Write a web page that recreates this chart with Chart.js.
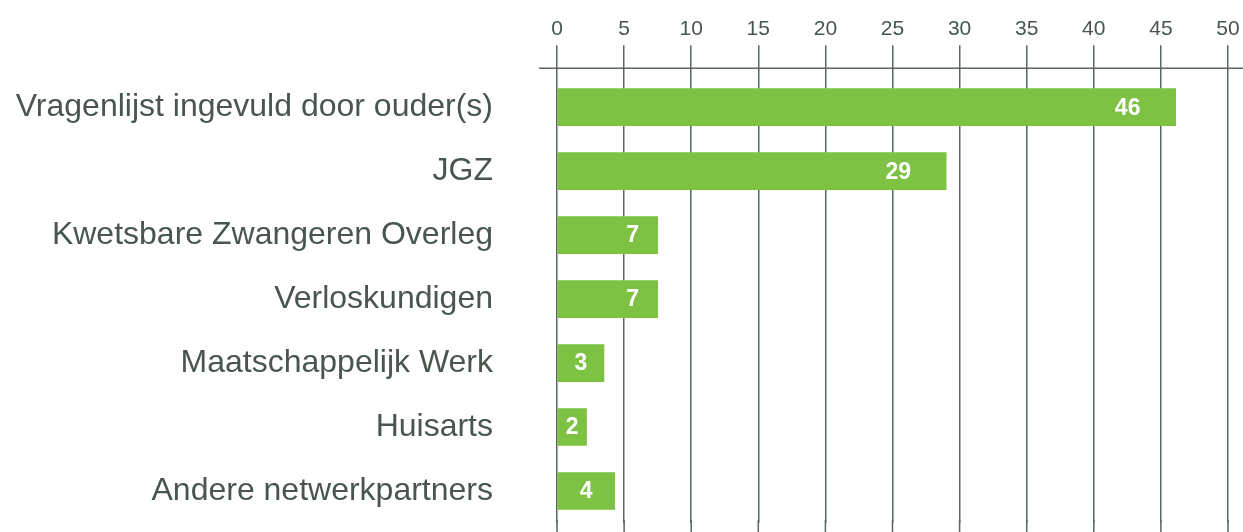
<!DOCTYPE html>
<html>
<head>
<meta charset="utf-8">
<script src="https://cdn.jsdelivr.net/npm/chart.js@4"></script>
<style>
  html, body { margin: 0; padding: 0; background: #fff; }
  #wrap { width: 1243px; height: 532px; }
</style>
</head>
<body>
<div id="wrap"><canvas id="canvas"></canvas></div>
<script>
// data
var categories = ['Vragenlijst ingevuld door ouder(s)', 'JGZ', 'Kwetsbare Zwangeren Overleg', 'Verloskundigen', 'Maatschappelijk Werk', 'Huisarts', 'Andere netwerkpartners'];
var barValues = [46.1, 29, 7.5, 7.5, 3.5, 2.2, 4.3];
var barLabels = ['46', '29', '7', '7', '3', '2', '4'];
var xTicks = [0, 5, 10, 15, 20, 25, 30, 35, 40, 45, 50];

var green = '#7dc243';
var gridColor = '#5b6661';
var textColor = '#48564e';

// white value inside each bar
var barLabelPlugin = {
    id: 'barLabel',
    afterDatasetsDraw: function(chart){
        var ctx = chart.ctx;
        var meta = chart.getDatasetMeta(0);
        ctx.save();
        ctx.fillStyle = '#fff';
        ctx.font = 'bold 23px "Liberation Sans", Arial, sans-serif';
        ctx.textAlign = 'center';
        ctx.textBaseline = 'middle';
        for (var i = 0; i < meta.data.length; i++){
            var bar = meta.data[i];
            var w = bar.x - bar.base;
            var off;
            if (w < 70) off = w / 2;
            else if (w < 200) off = 25;
            else off = 48;
            ctx.fillText(barLabels[i], bar.x - off, bar.y + 1);
        }
        ctx.restore();
    }
};

// horizontal rule under the ticks, and grid lines running to the bottom edge
var extrasPlugin = {
    id: 'extras',
    beforeDatasetsDraw: function(chart){
        var ctx = chart.ctx;
        var area = chart.chartArea;
        var xs = chart.scales.x;
        ctx.save();
        ctx.strokeStyle = gridColor;
        ctx.lineWidth = 1.5;
        ctx.beginPath();
        ctx.moveTo(area.left - 18, area.top - 7);
        ctx.lineTo(chart.width, area.top - 7);
        for (var t of xTicks){
            var px = xs.getPixelForValue(t);
            ctx.moveTo(px, area.bottom - 3);
            ctx.lineTo(px, chart.height);
        }
        ctx.stroke();
        ctx.restore();
    }
};

function noPadding(scale){
    scale.paddingTop = 0;
    scale.paddingBottom = 0;
    scale.paddingLeft = 0;
    scale.paddingRight = 0;
}

var ctx = document.getElementById('canvas').getContext('2d');
var chart = new Chart(ctx, {
    type: 'bar',
    data: {
        labels: categories,
        datasets: [{
            data: barValues,
            backgroundColor: green,
            borderWidth: 0,
            barThickness: 37
        }]
    },
    options: {
        indexAxis: 'y',
        responsive: true,
        maintainAspectRatio: false,
        animation: false,
        layout: { padding: { top: 13, right: 15, bottom: 9, left: 0 } },
        plugins: {
            legend: { display: false },
            tooltip: { enabled: false }
        },
        scales: {
            x: {
                position: 'top',
                min: 0,
                max: 50,
                afterBuildTicks: function(scale){
                    scale.ticks = xTicks.map(function(v){ return { value: v }; });
                },
                afterFit: noPadding,
                ticks: {
                    color: textColor,
                    padding: 3.5,
                    maxRotation: 0,
                    minRotation: 0,
                    font: { family: '"Liberation Sans", Arial, sans-serif', size: 21 }
                },
                grid: {
                    color: gridColor,
                    lineWidth: 1.5,
                    tickLength: 30
                },
                border: { display: false }
            },
            y: {
                afterFit: function(scale){
                    scale.width = 557;
                    noPadding(scale);
                },
                ticks: {
                    color: textColor,
                    padding: 2,
                    autoSkip: false,
                    font: { family: '"Liberation Sans", Arial, sans-serif', size: 32 }
                },
                // invisible tick marks only push the labels away from the bars
                grid: {
                    drawOnChartArea: false,
                    color: 'rgba(0,0,0,0)',
                    tickLength: 62
                },
                border: { display: false }
            }
        }
    },
    plugins: [extrasPlugin, barLabelPlugin]
});
</script>
</body>
</html>
